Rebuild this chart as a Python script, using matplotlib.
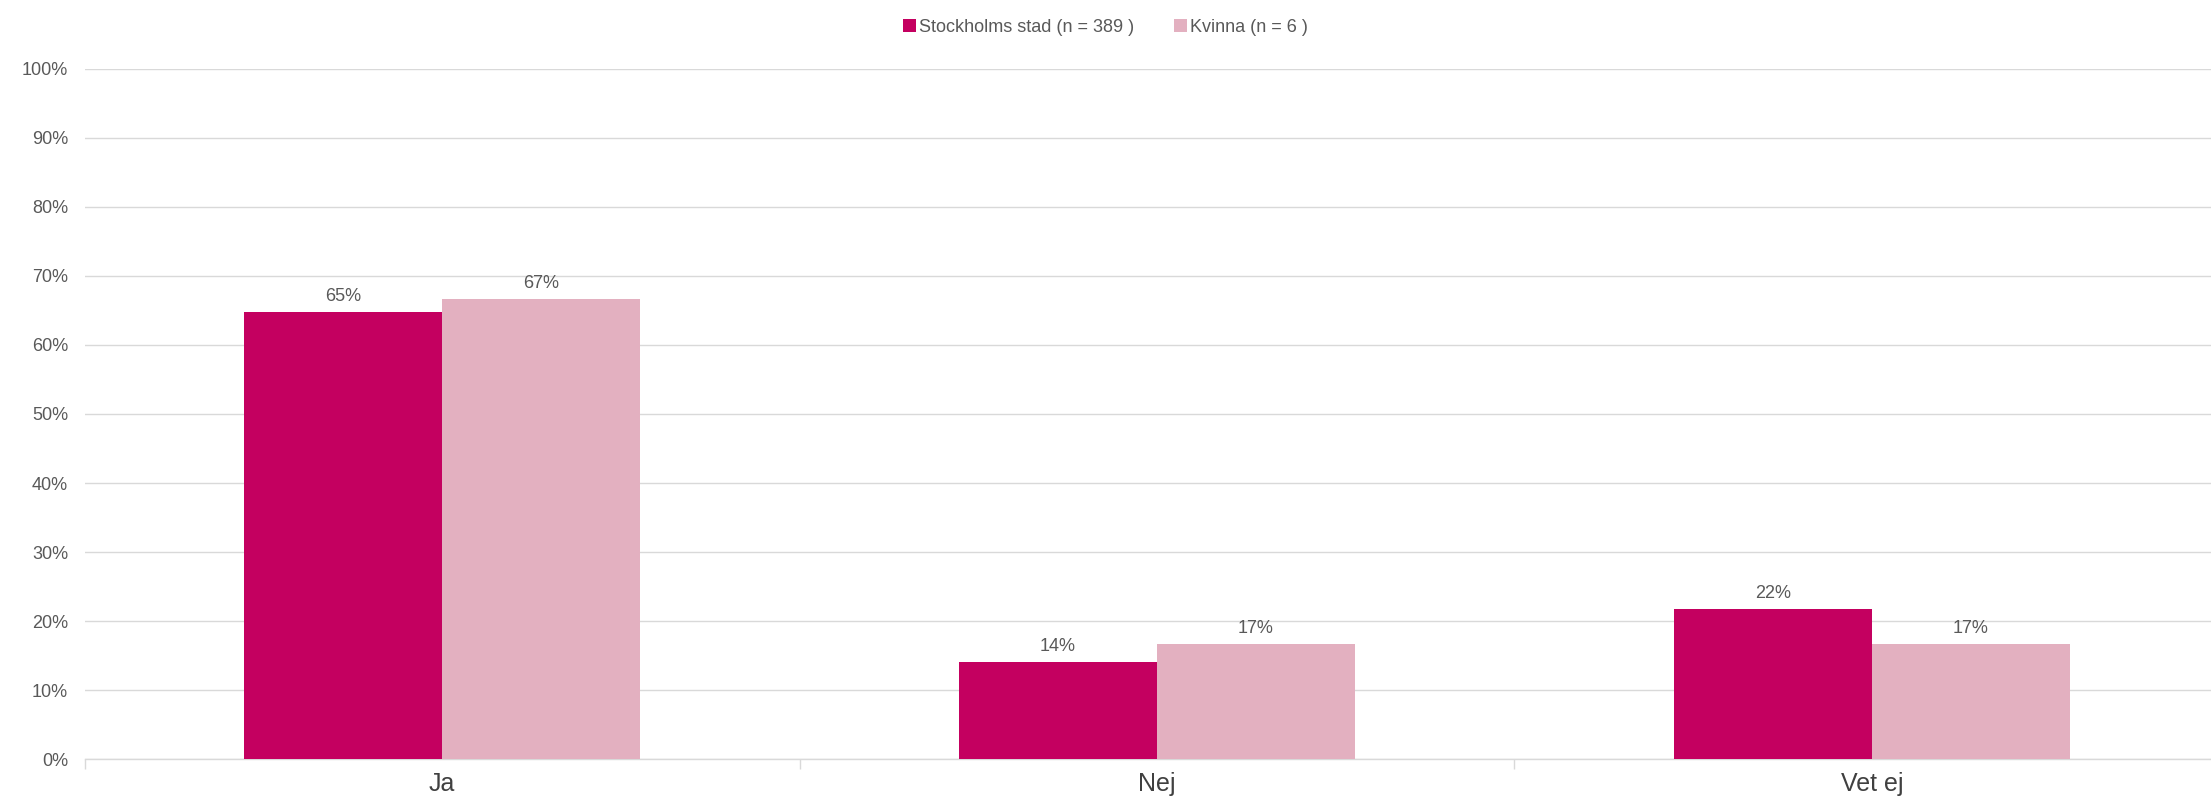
import numpy as np
import matplotlib
matplotlib.use("Agg")
import matplotlib.pyplot as plt

categories = ["Ja", "Nej", "Vet ej"]
stockholm = [64.8, 14.1, 21.8]
kvinna = [66.7, 16.7, 16.7]
series_names = ["Stockholms stad (n = 389 )", "Kvinna (n = 6 )"]
y_ticks = [0, 10, 20, 30, 40, 50, 60, 70, 80, 90, 100]

plt.rcParams['font.family'] = ['Liberation Sans', 'DejaVu Sans']
text_col = "#595959"
grid_col = "#D9D9D9"

fig = plt.figure(figsize=(22.11, 8), dpi=100)
ax = fig.add_axes([0.0383, 0.051, 0.970, 0.863])

x = np.arange(len(categories))
w = 0.277
b1 = ax.bar(x - w / 2, stockholm, w, color="#C40060", label=series_names[0], zorder=3)
b2 = ax.bar(x + w / 2, kvinna, w, color="#E3B0C0", label=series_names[1], zorder=3)

for bars in (b1, b2):
    for r in bars:
        h = r.get_height()
        ax.annotate(f"{h:.0f}%", (r.get_x() + r.get_width() / 2, h),
                    xytext=(0, 5), textcoords="offset points",
                    ha="center", va="bottom", fontsize=13, color=text_col)

ax.set_xlim(-0.5, 2.5)
ax.set_ylim(0, 100)
ax.set_yticks(y_ticks)
ax.set_yticklabels([f"{t}%" for t in y_ticks])
ax.grid(axis="y", color=grid_col, linewidth=1, zorder=0)
ax.set_axisbelow(True)

ax.set_xticks(x)
ax.set_xticklabels(categories, fontsize=18, color="#404040")
ax.set_xticks([-0.5, 0.5, 1.5], minor=True)
ax.tick_params(axis="x", which="major", length=0, pad=9)
ax.tick_params(axis="x", which="minor", length=7, color=grid_col, width=1)
ax.tick_params(axis="y", length=0, pad=12, labelsize=13, labelcolor=text_col)

for s in ["top", "right", "left"]:
    ax.spines[s].set_visible(False)
ax.spines["bottom"].set_color(grid_col)
ax.spines["bottom"].set_linewidth(1)

fig.legend(loc="upper center", bbox_to_anchor=(0.5, 0.997), ncol=2, frameon=False,
           fontsize=13, labelcolor=text_col, handlelength=0.7, handleheight=0.7,
           handletextpad=0.2, columnspacing=2.2)

fig.savefig("out.png", dpi=100)
